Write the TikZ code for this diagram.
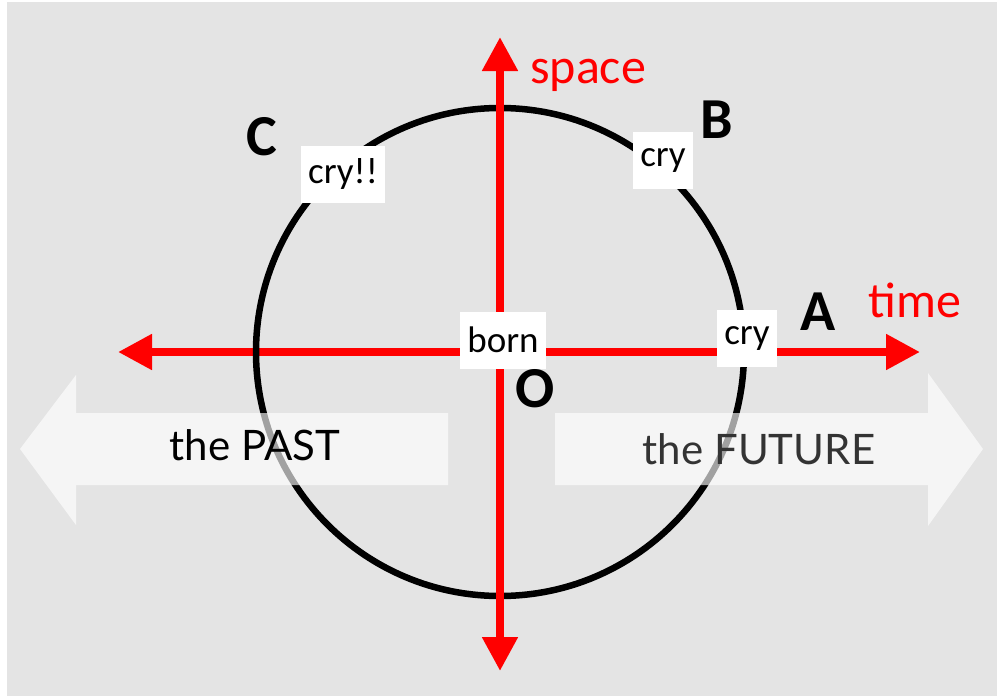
\documentclass[tikz,border=0pt]{standalone}
\usepackage{fontspec}
\setmainfont{Carlito}
\newfontfamily\arrowfont{Lato}
\usetikzlibrary{arrows.meta,calc,positioning}
\definecolor{bggray}{HTML}{E4E4E4}
\definecolor{axisred}{HTML}{FF0000}
\definecolor{futuregray}{HTML}{333333}
\tikzset{
    axis/.style={line width=8pt,draw=axisred,{Triangle[width=34pt,length=34pt]}-{Triangle[width=34pt,length=34pt]}},
    axislabel/.style={text=axisred,font=\fontsize{50}{60}\selectfont,inner sep=0pt,anchor=base west},
    ptlabel/.style={font=\fontsize{58}{70}\selectfont\bfseries,inner sep=0pt,anchor=base},
    eventbox/.style={fill=white,inner xsep=7pt,inner ysep=0pt,minimum height=57pt,font=\fontsize{37}{44}\selectfont},
    bigarrow/.style={fill=white,fill opacity=0.63,draw=none},
    arrowtext/.style={font=\arrowfont\fontsize{42}{50}\selectfont,inner sep=0pt,anchor=base}
}
\begin{document}
\begin{tikzpicture}[x=1pt,y=-1pt]
  \useasboundingbox (0,0) rectangle (997,696);
  \fill[bggray] (7,2) rectangle (997,696);

  \coordinate (O) at (500,352);
  \coordinate (tleft) at (118,352);
  \coordinate (tright) at (920,352);
  \coordinate (stop) at (500,37);
  \coordinate (sbot) at (500,671);

  % time axis under the circle, space axis over it
  \draw[axis] (tleft) -- (tright);
  \draw[black,line width=6.5pt] (O) circle (244);
  \draw[axis] (sbot) -- (stop);

  % past and future
  \fill[bigarrow] (20,449) -- (76,375) -- (76,413) -- (448,413) -- (448,485) -- (76,485) -- (76,525) -- cycle;
  \fill[bigarrow] (983,449) -- (928,373) -- (928,413) -- (555,413) -- (555,485) -- (928,485) -- (928,526) -- cycle;
  \node[arrowtext] (past) at (255,460) {the PAST};
  \node[arrowtext,text=futuregray] (future) at (759,464) {the FUTURE};

  \node[eventbox] (born) at (503,340) {born};
  \node[eventbox] (cryA) at (747,338) {cry};
  \node[eventbox] (cryB) at (663,160) {cry};
  \node[eventbox] (cryC) at (343,174) {cry!!};

  \node[axislabel] (space) at (530,83) {space};
  \node[axislabel] (time) at (868,317) {time};

  \node[ptlabel] (lblA) at (818,330) {A};
  \node[ptlabel] (lblB) at (717,138) {B};
  \node[ptlabel] (lblC) at (262,155) {C};
  \node[ptlabel] (lblO) at (535,407) {O};
\end{tikzpicture}
\end{document}
